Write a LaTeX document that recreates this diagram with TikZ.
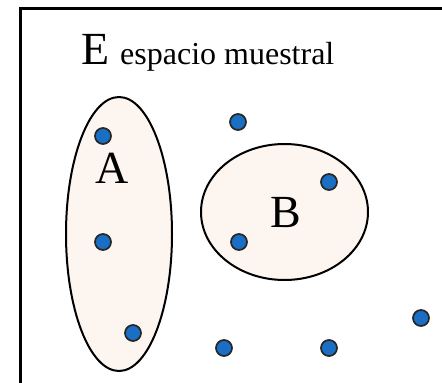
\documentclass[tikz,border=0pt]{standalone}
\usetikzlibrary{shapes.geometric}
\usepackage{fontspec}
\setmainfont{Liberation Serif}
\definecolor{dotblue}{HTML}{1A6FC4}
\definecolor{setfill}{HTML}{FCF5F0}
\begin{document}
\begin{tikzpicture}[x=1pt,y=-1pt,
  pt/.style={circle,draw=black!85,line width=1.7pt,fill=dotblue,minimum size=16pt,inner sep=0pt},
  setshape/.style={ellipse,draw=black,line width=2pt,fill=setfill,inner sep=0pt},
  lbl/.style={font=\fontsize{46}{46}\selectfont,inner sep=0pt}]
\useasboundingbox (0,0) rectangle (442,383);
\fill[white] (0,0) rectangle (442,383);
\draw[line width=3pt] (20,400) -- (20,8) -- (460,8);
\node[setshape,minimum width=106pt,minimum height=274pt] (A) at (119,234) {};
\node[setshape,minimum width=167pt,minimum height=136pt] (B) at (284.5,212) {};
\node[lbl,anchor=base west] (E) at (81,64) {E};
\node[font=\fontsize{32}{32}\selectfont,inner sep=0pt,anchor=base west] (esp) at (120,64) {espacio muestral};
\node[lbl] (lA) at (112,168) {A};
\node[lbl] (lB) at (286,213) {B};
\node[pt] (p1) at (238,122) {};
\node[pt] (p2) at (103,136) {};
\node[pt] (p3) at (103,242) {};
\node[pt] (p4) at (133,333) {};
\node[pt] (p5) at (329,182) {};
\node[pt] (p6) at (239,242) {};
\node[pt] (p7) at (224,348) {};
\node[pt] (p8) at (329,348) {};
\node[pt] (p9) at (421,318) {};
\end{tikzpicture}
\end{document}
